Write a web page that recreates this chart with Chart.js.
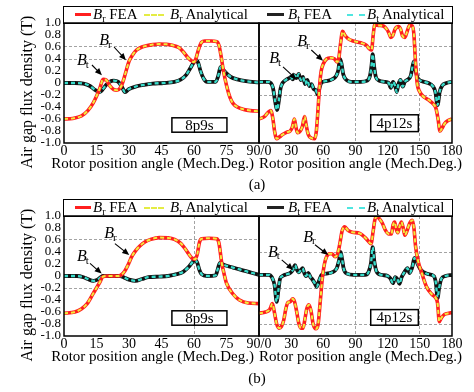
<!DOCTYPE html>
<html>
<head>
<meta charset="utf-8">
<script src="https://cdn.jsdelivr.net/npm/chart.js@4.4.1/dist/chart.umd.min.js"></script>
<style>
body { margin: 0; background: #fff; font-family: 'Liberation Serif', 'Times New Roman', serif; }
#fig { position: relative; width: 474px; height: 392px; overflow: hidden; }
canvas { position: absolute; }
.t { position: absolute; white-space: nowrap; color: #000; font-size: 15px; line-height: 1; }
.yt { font-size: 16px; transform: translate(-50%, -50%) rotate(-90deg); }
.cap { transform: translate(-50%, -50%); }
.xt { transform: translateY(-50%); }
.lg { position: absolute; border: 1.5px solid #000; box-sizing: border-box; }
.key { position: absolute; height: 0; }
.t sub { font-size: 10px; vertical-align: -3px; }
</style>
</head>
<body>
<div id="fig">
  <canvas id="aL" width="290" height="192" style="left:0;top:0"></canvas>
  <canvas id="aR" width="234" height="192" style="left:240px;top:0"></canvas>
  <canvas id="bL" width="290" height="192" style="left:0;top:193px"></canvas>
  <canvas id="bR" width="234" height="192" style="left:240px;top:193px"></canvas>

  <div class="lg" style="left:63.25px;top:6px;width:389.5px;height:17.75px"></div>
  <div class="key" style="left:75px;top:13px;width:16px;border-top:3px solid #ff1f1f"></div>
  <div class="t" style="left:93px;top:7px"><i>B</i><sub>r</sub> FEA</div>
  <div class="key" style="left:144px;top:14px;width:20px;border-top:2px dashed #e4ec44"></div>
  <div class="t" style="left:170px;top:7px"><i>B</i><sub>r</sub> Analytical</div>
  <div class="key" style="left:267px;top:13px;width:17px;border-top:3px solid #222"></div>
  <div class="t" style="left:288px;top:7px"><i>B</i><sub>t</sub> FEA</div>
  <div class="key" style="left:347px;top:14px;width:18px;border-top:2px dashed #4ee6e0"></div>
  <div class="t" style="left:367px;top:7px"><i>B</i><sub>t</sub> Analytical</div>

  <div class="lg" style="left:63.25px;top:199px;width:389.5px;height:17.75px"></div>
  <div class="key" style="left:75px;top:206px;width:16px;border-top:3px solid #ff1f1f"></div>
  <div class="t" style="left:93px;top:200px"><i>B</i><sub>r</sub> FEA</div>
  <div class="key" style="left:144px;top:207px;width:20px;border-top:2px dashed #e4ec44"></div>
  <div class="t" style="left:170px;top:200px"><i>B</i><sub>r</sub> Analytical</div>
  <div class="key" style="left:267px;top:206px;width:17px;border-top:3px solid #222"></div>
  <div class="t" style="left:288px;top:200px"><i>B</i><sub>t</sub> FEA</div>
  <div class="key" style="left:347px;top:207px;width:18px;border-top:2px dashed #4ee6e0"></div>
  <div class="t" style="left:367px;top:200px"><i>B</i><sub>t</sub> Analytical</div>

  <div class="t yt" style="left:27px;top:92px">Air gap flux density (T)</div>
  <div class="t yt" style="left:27px;top:285px">Air gap flux density (T)</div>
  <div class="t xt" style="left:0;width:254px;text-align:right;top:163px">Rotor position angle (Mech.Deg.)</div>
  <div class="t xt" style="left:259px;top:163px">Rotor position angle (Mech.Deg.)</div>
  <div class="t xt" style="left:0;width:254px;text-align:right;top:356px">Rotor position angle (Mech.Deg.)</div>
  <div class="t xt" style="left:259px;top:356px">Rotor position angle (Mech.Deg.)</div>
  <div class="t cap" style="left:257px;top:184px">(a)</div>
  <div class="t cap" style="left:257px;top:378px">(b)</div>
</div>
<script>
// (a) 8p9s
const a8BrDeg = [0, 4, 8, 11, 13.5, 15, 16.6, 18, 19.5, 21, 23, 24.5, 26, 27.2, 28.5, 30, 31.5, 33.5, 36, 38, 41, 44, 47, 50, 53, 55, 57, 58.5, 60, 61, 62, 63.5, 65, 68, 70.5, 71.5, 72.5, 73.5, 75, 76.6, 78, 80, 83, 86, 90];
const a8Br = [-0.6, -0.59, -0.55, -0.46, -0.33, -0.22, -0.08, 0.06, 0.05, -0.04, -0.11, -0.12, -0.08, 0.02, 0.18, 0.36, 0.46, 0.55, 0.6, 0.62, 0.64, 0.65, 0.645, 0.63, 0.59, 0.52, 0.43, 0.38, 0.35, 0.42, 0.55, 0.68, 0.7, 0.7, 0.69, 0.63, 0.45, 0.22, -0.04, -0.24, -0.34, -0.4, -0.44, -0.46, -0.47];
const a8BtDeg = [0, 5, 9, 12, 14.5, 16.5, 18, 19.5, 21, 23, 25, 26.5, 28.2, 30, 33, 37, 41, 46, 51, 54, 56.5, 58.5, 60, 61, 62, 63, 64.5, 66, 70, 71.2, 72.3, 73.5, 75, 77, 80, 84, 90];
const a8Bt = [0, 0, -0.01, -0.05, -0.12, -0.15, -0.1, -0.03, 0.02, 0.04, 0.02, -0.05, -0.15, -0.1, -0.06, -0.03, -0.01, 0, 0.02, 0.06, 0.14, 0.26, 0.35, 0.38, 0.33, 0.2, 0.07, 0.02, 0.02, 0.12, 0.27, 0.22, 0.16, 0.1, 0.06, 0.03, 0.01];

// (a) 4p12s
const a4BrDeg = [0, 5, 9, 11, 13, 14.5, 16.5, 19, 22, 26, 29, 31, 33, 34.5, 36, 38.5, 40.5, 42.5, 44, 46, 49, 52, 53.5, 55, 56.5, 58, 60, 63, 67, 70.5, 73, 74.5, 76, 78, 80, 83, 88, 95, 100, 103, 105, 106.5, 108, 112, 116, 119, 121, 123, 124.5, 127, 130, 132, 134, 136, 138, 140.5, 143, 144.5, 145.8, 147.5, 150, 153, 158, 162, 165, 167, 168.8, 170.5, 173, 176, 180];
const a4Br = [-0.6, -0.56, -0.48, -0.46, -0.6, -0.8, -0.93, -0.9, -0.86, -0.82, -0.8, -0.74, -0.6, -0.74, -0.83, -0.8, -0.72, -0.56, -0.7, -0.86, -0.92, -0.93, -0.8, -0.45, -0.05, 0.2, 0.32, 0.4, 0.42, 0.4, 0.35, 0.42, 0.65, 0.86, 0.8, 0.74, 0.7, 0.67, 0.63, 0.57, 0.55, 0.8, 0.97, 0.96, 0.95, 0.9, 0.84, 0.76, 0.78, 0.9, 0.94, 0.9, 0.78, 0.76, 0.85, 0.96, 0.95, 0.8, 0.4, 0, -0.15, -0.22, -0.28, -0.34, -0.42, -0.6, -0.8, -0.76, -0.68, -0.63, -0.6];
const a4BtDeg = [0, 8, 11, 13, 15, 16.8, 18.5, 20, 22, 25, 28, 30, 31.5, 33, 35, 37, 39, 41, 43, 45, 47, 49, 51, 53, 55, 56.5, 58, 62, 68, 72, 74, 75.5, 77, 78.5, 81, 86, 95, 101, 103.5, 105, 106, 107.2, 109, 112, 117, 121, 123, 125, 127, 128.5, 130, 132, 134, 136, 139, 141.5, 143.5, 144.6, 146, 148, 152, 158, 162, 164.5, 166.5, 168.5, 171, 175, 180];
const a4Bt = [0.02, 0.02, 0, -0.08, -0.3, -0.45, -0.3, -0.1, 0, 0.05, 0.08, 0.1, 0.06, 0.13, 0.08, 0.15, 0.05, 0.1, -0.02, 0.05, -0.05, -0.02, -0.1, -0.12, -0.2, -0.08, 0, 0.03, 0.06, 0.12, 0.22, 0.4, 0.32, 0.15, 0.06, 0.02, 0.02, 0.04, 0.12, 0.3, 0.48, 0.3, 0.1, 0.04, 0.02, 0, -0.08, 0.02, -0.05, -0.15, -0.02, 0.05, -0.06, 0.02, 0.06, 0.12, 0.3, 0.36, 0.22, 0.08, 0.03, 0, -0.05, -0.15, -0.37, -0.15, -0.04, 0, 0.02];

// (b) 8p9s
const b8BrDeg = [0, 5, 8, 10.5, 13.5, 16.6, 18, 20, 25, 26.5, 28, 30, 31.2, 33, 35, 37.5, 40, 44, 48, 51, 54, 56, 57.5, 59, 60.5, 61.5, 62.5, 63.5, 67, 70.5, 71.5, 72.8, 74, 75, 78, 81, 85, 90];
const b8Br = [-0.62, -0.6, -0.55, -0.47, -0.29, -0.1, -0.01, 0, 0, 0.02, 0.08, 0.22, 0.32, 0.42, 0.5, 0.57, 0.61, 0.64, 0.635, 0.61, 0.54, 0.45, 0.37, 0.3, 0.28, 0.36, 0.56, 0.62, 0.63, 0.62, 0.55, 0.22, 0.02, -0.12, -0.3, -0.4, -0.45, -0.46];
const b8BtDeg = [0, 6, 9, 11, 13.5, 15.5, 17, 18, 26, 27.5, 30, 33, 36, 39, 44, 48, 52, 55, 57.5, 59.5, 60.5, 61.5, 62.5, 63.5, 66, 70, 71, 72, 73, 75, 78, 81, 84, 87, 90];
const b8Bt = [0, 0, -0.02, -0.05, -0.08, -0.06, -0.02, 0, 0, -0.02, -0.06, -0.08, -0.05, -0.02, -0.01, 0, 0.03, 0.07, 0.15, 0.24, 0.27, 0.22, 0.1, 0.03, 0, 0.01, 0.12, 0.22, 0.2, 0.17, 0.14, 0.11, 0.08, 0.05, 0.02];

// (b) 4p12s
const b4BrDeg = [0, 6, 10, 12.5, 14.5, 16.5, 19, 21, 23, 25, 27, 29, 31.5, 33, 35, 37, 39, 41, 43, 44.5, 46.5, 48.5, 50.5, 53, 55, 57, 59, 61, 63, 66, 68, 71, 73.5, 75.5, 77.5, 80, 83, 87, 94, 99, 102, 104.5, 106.5, 108, 110, 112, 115, 118, 121, 123.5, 125, 126.5, 128, 129.5, 131, 132.8, 134.5, 136, 138, 140.5, 143, 144.5, 146, 148.5, 151.5, 156, 161, 165, 166.5, 168.2, 170, 173, 177, 180];
const b4Br = [-0.62, -0.6, -0.56, -0.46, -0.62, -0.8, -0.87, -0.84, -0.74, -0.55, -0.44, -0.43, -0.38, -0.42, -0.58, -0.78, -0.87, -0.87, -0.7, -0.55, -0.48, -0.58, -0.8, -0.88, -0.82, -0.45, -0.05, 0.2, 0.32, 0.37, 0.37, 0.32, 0.38, 0.55, 0.75, 0.82, 0.76, 0.73, 0.71, 0.64, 0.58, 0.54, 0.75, 0.93, 0.99, 0.96, 0.88, 0.76, 0.7, 0.7, 0.85, 0.9, 0.78, 0.72, 0.82, 0.9, 0.8, 0.68, 0.75, 0.88, 0.93, 0.8, 0.5, 0.24, 0.07, -0.17, -0.3, -0.37, -0.45, -0.76, -0.7, -0.64, -0.62, -0.61];
const b4BtDeg = [0, 9, 12, 14.5, 16.5, 18, 19.6, 22, 26, 29, 31.5, 33.6, 35, 37, 39, 40.7, 42, 43.8, 46, 48, 49.5, 52, 53.8, 56, 58.5, 63, 68, 72.5, 74.5, 76.2, 77.5, 79, 82, 88, 99, 102, 104.5, 106, 107.5, 109.5, 114, 120, 122.5, 125, 127, 129, 131, 133, 134.5, 137, 138.5, 140.5, 143, 145, 146.5, 148.5, 151, 154, 158, 163, 165, 166.5, 168, 170, 174, 180];
const b4Bt = [0.02, 0.02, -0.02, -0.15, -0.43, -0.25, -0.05, 0, 0.03, 0.05, 0.1, 0.18, 0.12, 0.06, 0.1, 0.13, 0.06, 0, 0.05, -0.02, -0.05, -0.12, -0.18, -0.08, 0.02, 0.04, 0.06, 0.13, 0.25, 0.4, 0.28, 0.12, 0.04, 0.02, 0.02, 0.06, 0.22, 0.48, 0.25, 0.08, 0.02, 0, -0.04, -0.12, -0.02, -0.05, -0.13, -0.02, 0.03, 0.1, 0.13, 0.05, 0.15, 0.3, 0.26, 0.18, 0.1, 0.06, 0.03, 0, -0.12, -0.37, -0.2, -0.05, 0, 0.02];

const yTicks = [-1, -0.8, -0.6, -0.4, -0.2, 0, 0.2, 0.4, 0.6, 0.8, 1];

Chart.defaults.font.family = "'Liberation Serif', 'Times New Roman', serif";
Chart.defaults.color = '#000';

const pts = (d, v) => d.map((x, i) => ({ x, y: v[i] }));
const near = (list, v) => list.some(g => Math.abs(g - v) < 1e-6);

const notes = {
  id: 'notes',
  afterDraw(chart, args, o) {
    const { ctx, chartArea: a, scales: { x, y } } = chart;
    ctx.save();
    ctx.setLineDash([]);
    ctx.strokeStyle = '#000';
    ctx.fillStyle = '#000';
    ctx.lineWidth = 1.1;
    for (const n of o.marks) {
      const lx = x.getPixelForValue(n.at[0]), ly = y.getPixelForValue(n.at[1]);
      ctx.textBaseline = 'middle';
      ctx.textAlign = 'left';
      ctx.font = "italic 16px 'Liberation Serif'";
      const bw = ctx.measureText('B').width;
      const x0 = lx - (bw + 4) / 2;
      ctx.fillText('B', x0, ly);
      ctx.font = "11px 'Liberation Serif'";
      ctx.fillText(n.sub, x0 + bw - 1, ly + 4);
      const ax = x.getPixelForValue(n.from[0]), ay = y.getPixelForValue(n.from[1]);
      const tx = x.getPixelForValue(n.to[0]), ty = y.getPixelForValue(n.to[1]);
      const ang = Math.atan2(ty - ay, tx - ax);
      const c = Math.cos(ang), s = Math.sin(ang);
      ctx.beginPath();
      ctx.moveTo(ax, ay);
      ctx.lineTo(tx - 5 * c, ty - 5 * s);
      ctx.stroke();
      ctx.beginPath();
      ctx.moveTo(tx, ty);
      ctx.lineTo(tx - 7 * c + 3 * s, ty - 7 * s - 3 * c);
      ctx.lineTo(tx - 7 * c - 3 * s, ty - 7 * s + 3 * c);
      ctx.closePath();
      ctx.fill();
    }
    const b = o.box;
    const bx1 = x.getPixelForValue(b.x[0]), bx2 = x.getPixelForValue(b.x[1]);
    const by1 = y.getPixelForValue(b.y[0]), by2 = y.getPixelForValue(b.y[1]);
    ctx.fillStyle = '#fff';
    ctx.fillRect(bx1, by1, bx2 - bx1, by2 - by1);
    ctx.lineWidth = 1.5;
    ctx.strokeRect(bx1, by1, bx2 - bx1, by2 - by1);
    ctx.fillStyle = '#000';
    ctx.font = "15px 'Liberation Serif'";
    ctx.textAlign = 'center';
    ctx.fillText(b.text, (bx1 + bx2) / 2, (by1 + by2) / 2 + 1);
    ctx.strokeRect(a.left, a.top, a.right - a.left, a.bottom - a.top);
    ctx.restore();
  }
};

function panel(id, p) {
  const common = { pointRadius: 0, fill: false, cubicInterpolationMode: 'monotone' };
  new Chart(document.getElementById(id), {
    type: 'line',
    data: {
      datasets: [
        { ...common, label: 'Br Analytical', data: pts(p.brDeg, p.br), borderColor: '#f2ec3c', borderWidth: 2, borderDash: [4, 3], order: 0 },
        { ...common, label: 'Br FEA', data: pts(p.brDeg, p.br), borderColor: '#ff1f1f', borderWidth: 3.6, order: 1 },
        { ...common, label: 'Bt Analytical', data: pts(p.btDeg, p.bt), borderColor: '#38dccb', borderWidth: 2.3, borderDash: [4, 3], order: 2 },
        { ...common, label: 'Bt FEA', data: pts(p.btDeg, p.bt), borderColor: '#111', borderWidth: 3.8, order: 3 }
      ]
    },
    options: {
      responsive: false,
      animation: false,
      layout: { padding: p.pad },
      plugins: { legend: { display: false }, tooltip: { enabled: false }, notes: p.notes },
      scales: {
        x: {
          type: 'linear', min: 0, max: p.xmax,
          afterFit: s => { s.height = 49; },
          ticks: { stepSize: p.step, autoSkip: false, maxRotation: 0, padding: 0, font: { size: 14 }, callback: p.xlab },
          grid: { drawTicks: false, lineWidth: 0.8, color: c => near(p.gx, c.tick.value) ? '#8c8c8c' : 'rgba(0,0,0,0)' },
          border: { display: false, dash: [3, 2] }
        },
        y: {
          min: -1, max: 1,
          afterFit: s => { s.width = p.yw; },
          afterBuildTicks: s => { s.ticks = yTicks.map(value => ({ value })); },
          ticks: { display: p.yw > 0, autoSkip: false, padding: 3, font: { size: 13 },
            callback: v => Math.abs(v) < 1e-9 ? '0' : v.toFixed(1) },
          grid: { drawTicks: false, lineWidth: 0.8, color: c => near(p.gy, c.tick.value) ? '#8c8c8c' : 'rgba(0,0,0,0)' },
          border: { display: false, dash: [3, 2] }
        }
      }
    },
    plugins: [notes]
  });
}

const leftPad = { left: 0, right: 31, top: 23, bottom: 0 };
const rightPad = { left: 19, right: 22, top: 23, bottom: 0 };
const leftLab = v => v === 90 ? '90/0' : String(v);
const rightLab = v => v === 0 ? '' : String(v);

panel('aL', { brDeg: a8BrDeg, br: a8Br, btDeg: a8BtDeg, bt: a8Bt, xmax: 90, step: 15, xlab: leftLab, pad: leftPad, yw: 64,
  gx: [], gy: [0.6, 0.4],
  notes: { marks: [
    { sub: 't', at: [9.2, 0.37], from: [12.9, 0.3], to: [17.5, 0.13] },
    { sub: 'r', at: [19.4, 0.7], from: [23.1, 0.6], to: [28.6, 0.38] }
  ], box: { text: '8p9s', x: [49.8, 75.2], y: [-0.58, -0.82] } } });

panel('aR', { brDeg: a4BrDeg, br: a4Br, btDeg: a4BtDeg, bt: a4Bt, xmax: 180, step: 30, xlab: rightLab, pad: rightPad, yw: 0,
  gx: [90, 150], gy: [0.6, -0.2],
  notes: { marks: [
    { sub: 't', at: [15.9, 0.4], from: [22.4, 0.27], to: [34.8, 0.06] },
    { sub: 'r', at: [42, 0.68], from: [48.8, 0.55], to: [59.7, 0.37] }
  ], box: { text: '4p12s', x: [104.2, 148.6], y: [-0.53, -0.81] } } });

panel('bL', { brDeg: b8BrDeg, br: b8Br, btDeg: b8BtDeg, bt: b8Bt, xmax: 90, step: 15, xlab: leftLab, pad: leftPad, yw: 64,
  gx: [60], gy: [0.6, -0.2],
  notes: { marks: [
    { sub: 't', at: [9.2, 0.32], from: [12, 0.21], to: [17.4, 0.04] },
    { sub: 'r', at: [21.7, 0.7], from: [23.5, 0.54], to: [30.1, 0.35] }
  ], box: { text: '8p9s', x: [49.8, 75.2], y: [-0.58, -0.82] } } });

panel('bR', { brDeg: b4BrDeg, br: b4Br, btDeg: b4BtDeg, bt: b4Bt, xmax: 180, step: 30, xlab: rightLab, pad: rightPad, yw: 0,
  gx: [90, 150], gy: [0.4, -0.2, -0.8],
  notes: { marks: [
    { sub: 't', at: [14.9, 0.39], from: [21.2, 0.27], to: [32, 0.1] },
    { sub: 'r', at: [47.6, 0.64], from: [52.2, 0.52], to: [64.6, 0.35] }
  ], box: { text: '4p12s', x: [104.2, 148.6], y: [-0.56, -0.82] } } });
</script>
</body>
</html>
